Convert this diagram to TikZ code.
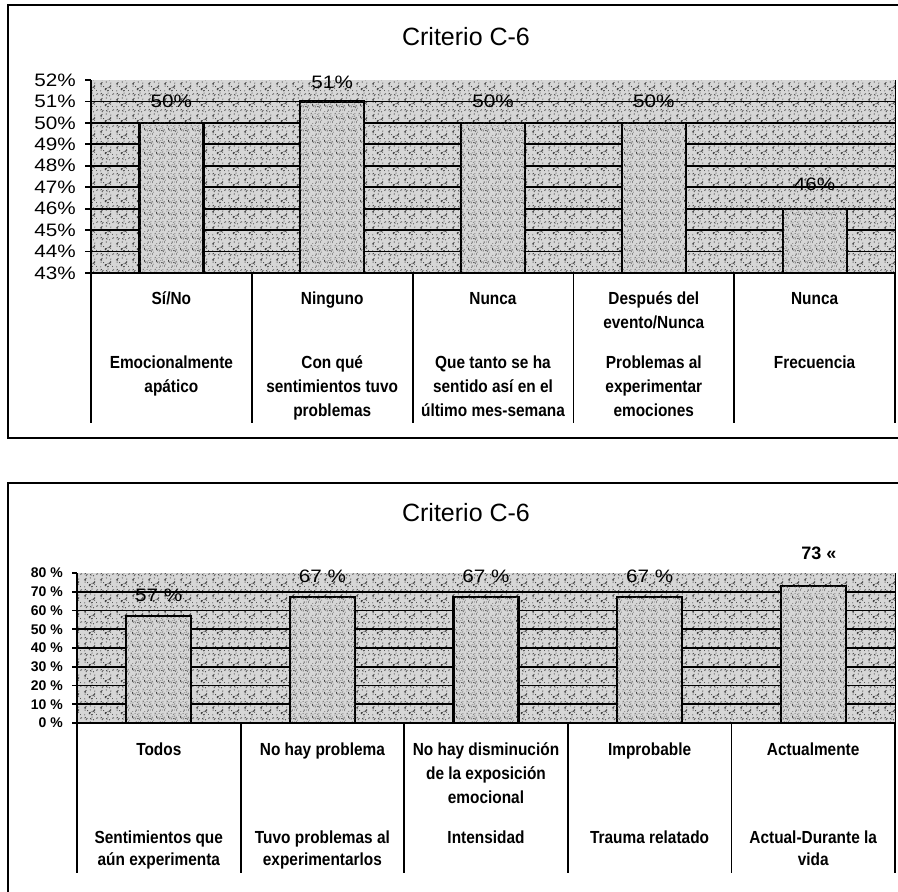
\documentclass[tikz,border=0pt]{standalone}
\usepackage{fontspec}
\usetikzlibrary{patterns}
\setmainfont{Liberation Sans}
\newfontfamily\catfont[FakeStretch=0.88]{Liberation Sans Bold}
\newfontfamily\numfont[FakeStretch=1.15]{Liberation Sans}
\definecolor{plotgray}{gray}{0.84}
\definecolor{bargray}{gray}{0.84}
\definecolor{dotgray}{gray}{0.25}

% coarse stipple for the plot area
\pgfdeclarepatternformonly{coarsestipple}{\pgfpointorigin}{\pgfpoint{16pt}{16pt}}{\pgfpoint{16pt}{16pt}}{%
  \pgfmathsetseed{4711}%
  \foreach \n in {1,...,34}{%
    \pgfmathsetmacro\px{rnd*16}\pgfmathsetmacro\py{rnd*16}%
    \pgfpathcircle{\pgfpoint{\px pt}{\py pt}}{0.6pt}}%
  \pgfusepath{fill}}
% fine stipple for the bars
\pgfdeclarepatternformonly{finestipple}{\pgfpointorigin}{\pgfpoint{12pt}{12pt}}{\pgfpoint{12pt}{12pt}}{%
  \pgfmathsetseed{1234}%
  \foreach \n in {1,...,34}{%
    \pgfmathsetmacro\px{rnd*12}\pgfmathsetmacro\py{rnd*12}%
    \pgfpathcircle{\pgfpoint{\px pt}{\py pt}}{0.45pt}}%
  \pgfusepath{fill}}

\begin{document}
\begin{tikzpicture}[x=1pt,y=-1pt,
  panel/.style={draw=black,line width=1.8pt},
  plotarea/.style={fill=plotgray,postaction={pattern=coarsestipple,pattern color=dotgray}},
  gridline/.style={line width=1.8pt},
  bar/.style={fill=bargray,draw=black,line width=2.2pt,postaction={pattern=finestipple,pattern color=dotgray}},
  rule/.style={line width=1.8pt},
  charttitle/.style={font=\fontsize{25}{28}\selectfont,inner sep=0pt},
  ticklabel/.style={font=\numfont\fontsize{18}{18}\selectfont,anchor=east,inner sep=0pt},
  smalltick/.style={font=\bfseries\fontsize{14}{14}\selectfont,anchor=east,inner sep=0pt},
  valuelabel/.style={font=\numfont\fontsize{18}{18}\selectfont,inner sep=0pt},
  % multi-line labels are placed by the baseline of their last line
  catlabel/.style={font=\catfont\fontsize{17.5}{24}\selectfont,align=center,anchor=base,inner sep=0pt},
  tightlabel/.style={catlabel,font=\catfont\fontsize{17.5}{22}\selectfont},
]
\useasboundingbox (0,0) rectangle (898,892);
\clip (0,0) rectangle (898,892);

% ================= upper chart (43% .. 52%) =================
\draw[panel] (8,5) rectangle (912,438);
\node[charttitle] (title1) at (466,37) {Criterio C-6};
\path[plotarea] (91,80) rectangle (895,273);
\foreach \k in {1,...,8}
  \draw[gridline] (91,{80+21.44*\k}) -- (895,{80+21.44*\k});
\draw[line width=1pt] (895,80) -- (895,273);
\foreach \i/\v/\ly in {1/50/101,2/51/82,3/50/101,4/50/101,5/46/184} {
  \pgfmathsetmacro\cx{91+160.8*(\i-0.5)}
  \pgfmathsetmacro\bt{273-(\v-43)*21.44}
  \draw[bar] ({\cx-32},273) rectangle ({\cx+32},\bt);
  \node[valuelabel] (va\i) at (\cx,\ly) {\v\%};
}
% axis, ticks and category table
\foreach \k [evaluate=\k as \p using int(52-\k)] in {0,...,9} {
  \draw[rule] (85,{80+21.44*\k}) -- (91,{80+21.44*\k});
  \node[ticklabel] (ta\k) at (76,{80+21.44*\k}) {\p\%};
}
\draw[rule] (91,80) -- (91,423);
\draw[rule] (85,273) -- (895,273);
\foreach \k in {1,...,5}
  \draw[rule] ({91+160.8*\k},273) -- ({91+160.8*\k},423);

\node[catlabel] (ca1) at (171.4,304) {Sí/No};
\node[catlabel] (ca2) at (332.2,304) {Ninguno};
\node[catlabel] (ca3) at (493.0,304) {Nunca};
\node[catlabel] (ca4) at (653.8,328) {Después del\\evento/Nunca};
\node[catlabel] (ca5) at (814.6,304) {Nunca};
\node[catlabel] (qa1) at (171.4,392) {Emocionalmente\\apático};
\node[catlabel] (qa2) at (332.2,416) {Con qué\\sentimientos tuvo\\problemas};
\node[catlabel] (qa3) at (493.0,416) {Que tanto se ha\\sentido así en el\\último mes-semana};
\node[catlabel] (qa4) at (653.8,416) {Problemas al\\experimentar\\emociones};
\node[catlabel] (qa5) at (814.6,368) {Frecuencia};

% ================= lower chart (0% .. 80%) =================
\draw[panel] (8,483) rectangle (912,892.6);
\node[charttitle] (title2) at (466,513) {Criterio C-6};
\path[plotarea] (77,573) rectangle (895,723);
\foreach \k in {1,...,7}
  \draw[gridline] (77,{723-18.75*\k}) -- (895,{723-18.75*\k});
\draw[line width=1pt] (895,573) -- (895,723);
\foreach \i/\v in {1/57,2/67,3/67,4/67,5/73} {
  \pgfmathsetmacro\cx{77+163.6*(\i-0.5)}
  \pgfmathsetmacro\bt{723-\v*1.875}
  \draw[bar] ({\cx-32.5},723) rectangle ({\cx+32.5},\bt);
}
\node[valuelabel] (vb1) at (158.8,595) {57 \%};
\node[valuelabel] (vb2) at (322.4,576) {67 \%};
\node[valuelabel] (vb3) at (486.0,576) {67 \%};
\node[valuelabel] (vb4) at (649.6,576) {67 \%};
\node[font=\bfseries\fontsize{18}{18}\selectfont,inner sep=0pt] (vb5) at (819,553) {73 «};
\foreach \k [evaluate=\k as \p using int(10*\k)] in {0,...,8} {
  \draw[rule] (72,{723-18.75*\k}) -- (77,{723-18.75*\k});
  \node[smalltick] (tb\k) at (63,{723-18.75*\k}) {\p\ \%};
}
\draw[rule] (77,573) -- (77,873);
\draw[rule] (72,723) -- (895,723);
\foreach \k in {1,...,5}
  \draw[rule] ({77+163.6*\k},723) -- ({77+163.6*\k},873);

\node[catlabel] (cb1) at (158.8,755) {Todos};
\node[catlabel] (cb2) at (322.4,755) {No hay problema};
\node[catlabel] (cb3) at (486.0,803) {No hay disminución\\de la exposición\\emocional};
\node[catlabel] (cb4) at (649.6,755) {Improbable};
\node[catlabel] (cb5) at (813.2,755) {Actualmente};
\node[tightlabel] (qb1) at (158.8,865) {Sentimientos que\\aún experimenta};
\node[tightlabel] (qb2) at (322.4,865) {Tuvo problemas al\\experimentarlos};
\node[tightlabel] (qb3) at (486.0,843) {Intensidad};
\node[tightlabel] (qb4) at (649.6,843) {Trauma relatado};
\node[tightlabel] (qb5) at (813.2,865) {Actual-Durante la\\vida};
\end{tikzpicture}
\end{document}
